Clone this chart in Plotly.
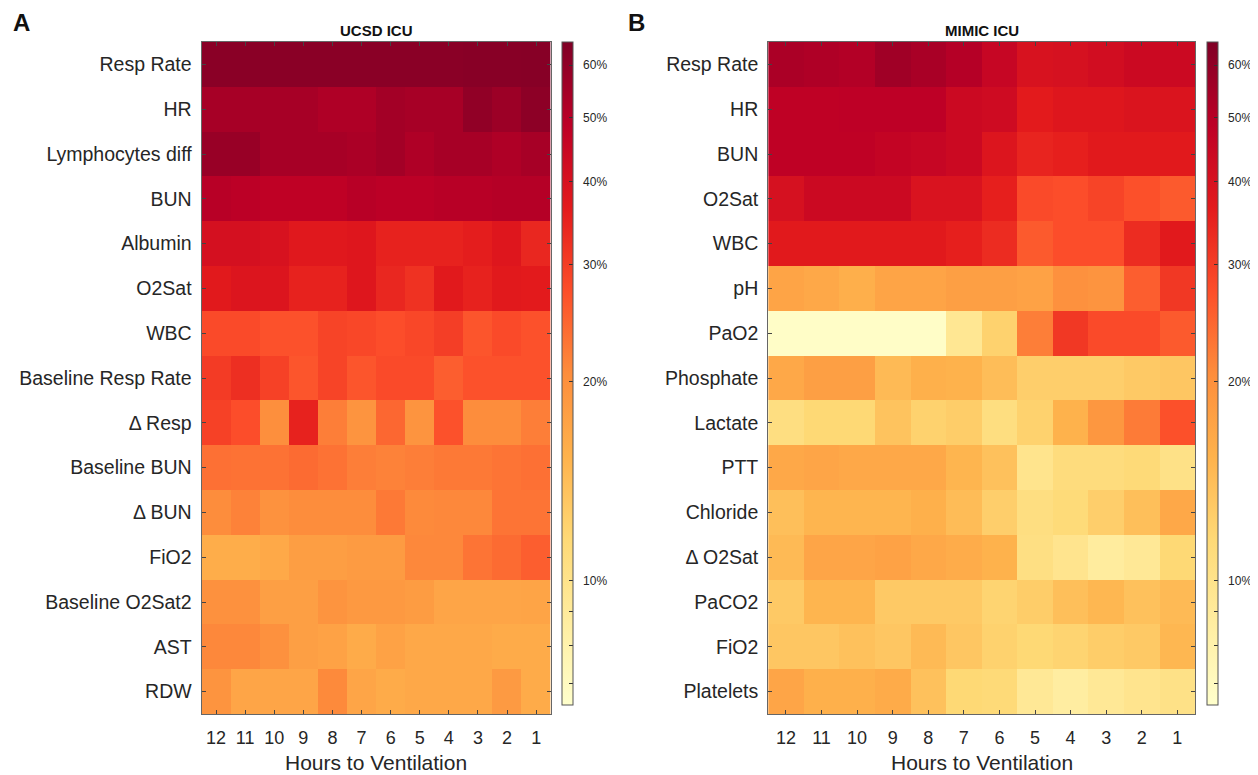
import numpy as np
import plotly.graph_objects as go

hours = ["12", "11", "10", "9", "8", "7", "6", "5", "4", "3", "2", "1"]

ucsd_features = ["Resp Rate", "HR", "Lymphocytes diff", "BUN", "Albumin", "O2Sat", "WBC",
                 "Baseline Resp Rate", "Δ Resp", "Baseline BUN", "Δ BUN", "FiO2",
                 "Baseline O2Sat2", "AST", "RDW"]
ucsd_resp_rate = [62, 62, 62, 62, 62, 62, 62, 62, 62, 62.5, 62.5, 63]
ucsd_hr = [54, 54, 54, 54, 52, 52, 55, 54, 54, 60, 57, 61]
ucsd_lymph = [58, 58, 54, 54, 54, 53, 55, 52, 54, 54, 52, 54]
ucsd_bun = [50, 49, 48, 48, 48, 50, 49, 49, 50, 50, 50.5, 50.5]
ucsd_albumin = [41, 41, 40, 37.5, 37.5, 38, 35, 35, 35, 36, 38, 34]
ucsd_o2sat = [37, 38.5, 38.5, 35, 35, 38, 34, 32, 37, 35, 37, 36.5]
ucsd_wbc = [28, 28, 27, 27, 29, 28.5, 27.5, 28.5, 30, 26.5, 28, 27]
ucsd_base_resp = [30.5, 32.5, 29.5, 26.5, 29, 26.5, 28, 28, 25.5, 27, 27, 27]
ucsd_d_resp = [29.5, 27.5, 20.2, 35, 22, 19.5, 24.5, 19.5, 27, 20.6, 20.6, 22]
ucsd_base_bun = [23.5, 23.3, 23.3, 24, 23.3, 22, 21.6, 22, 22.5, 22.5, 23, 23.5]
ucsd_d_bun = [20.6, 21.6, 19.8, 20.6, 20.6, 20.6, 22.5, 20.8, 21, 21, 23, 23]
ucsd_fio2 = [16, 16, 16.5, 18, 18, 18.5, 18.5, 21, 21, 23, 24, 25.5]
ucsd_base_o2sat2 = [20, 20, 17.8, 17.8, 19.4, 18.7, 18.7, 18.3, 17, 17, 17, 17.2]
ucsd_ast = [21, 21, 20, 17.8, 17.5, 16.3, 17.5, 16.6, 16.6, 16.6, 16.3, 16.3]
ucsd_rdw = [19.4, 17, 17, 17, 20.8, 17, 16.3, 16.6, 16.6, 16.6, 18.6, 16.3]

mimic_features = ["Resp Rate", "HR", "BUN", "O2Sat", "WBC", "pH", "PaO2", "Phosphate",
                  "Lactate", "PTT", "Chloride", "Δ O2Sat", "PaCO2", "FiO2", "Platelets"]
mimic_resp_rate = [53, 52, 51, 56, 53.5, 50.5, 45.5, 40, 40.5, 42, 44, 44]
mimic_hr = [48, 48, 48.5, 48.5, 48.5, 44, 43, 36.5, 38, 38, 39, 39]
mimic_bun = [48, 48, 48, 46.5, 45.5, 44, 38.5, 34.5, 35.5, 37, 37, 37]
mimic_o2sat = [40.5, 44, 44, 44, 39.5, 39.5, 35.5, 28, 27.5, 29, 27.2, 26]
mimic_wbc = [37, 37, 37, 37, 37, 35.5, 33, 26, 27.5, 27.5, 33, 37]
mimic_ph = [17.2, 16.6, 15.8, 17.2, 17.2, 17.8, 17.8, 17.5, 20, 19.5, 25.5, 31]
mimic_pao2 = [6.7, 6.7, 6.7, 6.7, 6.7, 9.5, 12.2, 22, 31, 28, 28, 26]
mimic_phosphate = [16.6, 17.8, 17.8, 14.5, 15.7, 15.4, 14.2, 12.5, 12.5, 12.5, 13, 13.3]
mimic_lactate = [10.7, 11.6, 11.6, 13.6, 12.2, 12.6, 10.8, 12.2, 15.4, 19, 22.3, 27.2]
mimic_ptt = [16.6, 17, 16.6, 16.6, 16.6, 15.1, 13.8, 9.9, 11, 11, 11.4, 10.3]
mimic_chloride = [14, 15.1, 15.1, 15.1, 15.7, 14.3, 12.5, 10.7, 11.3, 12.5, 14, 16.6]
mimic_d_o2sat = [14.5, 17, 17, 17.5, 16.6, 16.1, 15.4, 10.6, 9.8, 8.8, 9.3, 11.6]
mimic_paco2 = [13, 15.1, 15.1, 13, 13, 13, 12, 12.6, 14, 14.9, 13.8, 14.5]
mimic_fio2 = [13.3, 13.3, 13.8, 13.3, 14.5, 13.3, 12.2, 11.6, 12, 12.6, 13, 14.9]
mimic_platelets = [17, 15.7, 15.7, 16.3, 13.8, 11.6, 11.4, 9.3, 8.6, 9.3, 9.8, 10.3]

cbar_ticks = [7, 8, 9, 10, 20, 30, 40, 50, 60]
cbar_labels = ["", "", "", "10%", "20%", "30%", "40%", "50%", "60%"]
cmin_pct, cmax_pct = 6.5, 65

ucsd_rows = [ucsd_resp_rate, ucsd_hr, ucsd_lymph, ucsd_bun, ucsd_albumin, ucsd_o2sat, ucsd_wbc,
             ucsd_base_resp, ucsd_d_resp, ucsd_base_bun, ucsd_d_bun, ucsd_fio2,
             ucsd_base_o2sat2, ucsd_ast, ucsd_rdw]
mimic_rows = [mimic_resp_rate, mimic_hr, mimic_bun, mimic_o2sat, mimic_wbc, mimic_ph, mimic_pao2,
              mimic_phosphate, mimic_lactate, mimic_ptt, mimic_chloride, mimic_d_o2sat,
              mimic_paco2, mimic_fio2, mimic_platelets]

ylorrd = ["#ffffcc", "#ffeda0", "#fed976", "#feb24c", "#fd8d3c",
          "#fc4e2a", "#e31a1c", "#bd0026", "#800026"]
cscale = [[i / 8, c] for i, c in enumerate(ylorrd)]

# page body has an 8px margin: the figure starts at (8, 8) and reaches the window's edges
OFF = 8
W, H = 1258 - OFF, 775 - OFF
def px(x):
    return (x - OFF) / W
def py(y):
    return 1 - (y - OFF) / H

TXT = "#262626"
FONT = "Liberation Sans, Arial, Helvetica, sans-serif"

fig = go.Figure()
fig.add_trace(go.Heatmap(z=np.log10(np.array(ucsd_rows, dtype=float)), x=hours, y=ucsd_features,
                         coloraxis="coloraxis", xaxis="x", yaxis="y",
                         customdata=np.array(ucsd_rows),
                         hovertemplate="%{y}, %{x}h: %{customdata:.1f}%<extra></extra>"))
fig.add_trace(go.Heatmap(z=np.log10(np.array(mimic_rows, dtype=float)), x=hours, y=mimic_features,
                         coloraxis="coloraxis2", xaxis="x2", yaxis="y2",
                         customdata=np.array(mimic_rows),
                         hovertemplate="%{y}, %{x}h: %{customdata:.1f}%<extra></extra>"))

plot_top, plot_bot = 42, 714
cb_top, cb_bot = 42, 705

def cbar(xleft):
    return dict(
        x=px(xleft), xanchor="left", xpad=0, y=py(cb_top), yanchor="top", ypad=0,
        len=cb_bot - cb_top, lenmode="pixels", thickness=11, thicknessmode="pixels",
        outlinewidth=1, outlinecolor="#555555",
        tickvals=list(np.log10(cbar_ticks)),
        ticktext=[("\u00a0\u00a0" + t) if t else "" for t in cbar_labels],
        ticks="inside", ticklen=4, tickcolor="#333333",
        tickfont=dict(size=12, color=TXT, family=FONT),
    )

fig.update_layout(
    width=W, height=H,
    margin=dict(l=0, r=0, t=0, b=0),
    paper_bgcolor="white", plot_bgcolor="white",
    font=dict(family=FONT, color=TXT),
    coloraxis=dict(colorscale=cscale, cmin=np.log10(cmin_pct), cmax=np.log10(cmax_pct),
                   colorbar=cbar(563)),
    coloraxis2=dict(colorscale=cscale, cmin=np.log10(cmin_pct), cmax=np.log10(cmax_pct),
                    colorbar=cbar(1210)),
)

axis_common = dict(showline=True, linecolor="#666666", linewidth=1, mirror="ticks",
                   ticks="inside", ticklen=4, tickcolor="#444444", showgrid=False,
                   zeroline=False, automargin=False)

fig.update_layout(
    xaxis=dict(domain=[px(202), px(552)], anchor="y", tickfont=dict(size=18, color=TXT),
               ticklabelstandoff=7, categoryorder="array", categoryarray=hours, **axis_common),
    yaxis=dict(domain=[py(plot_bot), py(plot_top)], anchor="x", autorange="reversed",
               tickfont=dict(size=19.5, color=TXT), ticklabelstandoff=5, **axis_common),
    xaxis2=dict(domain=[px(770), px(1198)], anchor="y2", tickfont=dict(size=18, color=TXT),
                ticklabelstandoff=7, categoryorder="array", categoryarray=hours, **axis_common),
    yaxis2=dict(domain=[py(plot_bot), py(plot_top)], anchor="x2", autorange="reversed",
                tickfont=dict(size=19.5, color=TXT), ticklabelstandoff=5, **axis_common),
)

annots = [
    dict(text="<b>A</b>", x=px(11), y=py(22), xanchor="left", yanchor="middle", font=dict(size=24, color="#111111")),
    dict(text="<b>B</b>", x=px(627), y=py(22), xanchor="left", yanchor="middle", font=dict(size=24, color="#111111")),
    dict(text="<b>UCSD ICU</b>", x=px(377), y=py(30), xanchor="center", yanchor="middle", font=dict(size=15, color="#111111")),
    dict(text="<b>MIMIC ICU</b>", x=px(984), y=py(30), xanchor="center", yanchor="middle", font=dict(size=15, color="#111111")),
    dict(text="Hours to Ventilation", x=px(377), y=py(762), xanchor="center", yanchor="middle", font=dict(size=21, color=TXT), borderpad=0),
    dict(text="Hours to Ventilation", x=px(984), y=py(762), xanchor="center", yanchor="middle", font=dict(size=21, color=TXT), borderpad=0),
]
for a in annots:
    a.update(xref="paper", yref="paper", showarrow=False)
fig.update_layout(annotations=annots)

fig.write_html("out.html")
